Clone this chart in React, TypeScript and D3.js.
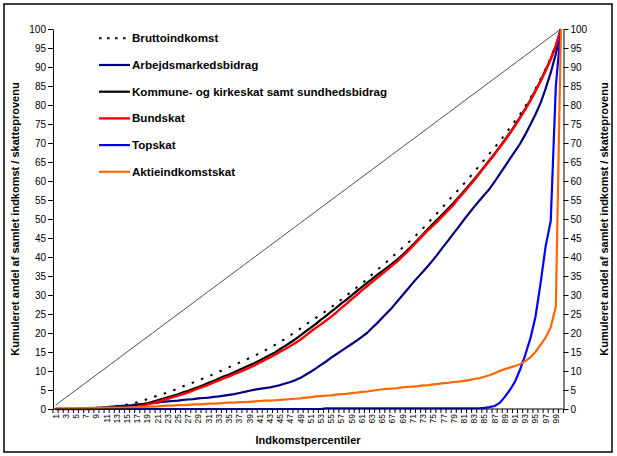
import { useEffect, useRef } from 'react';
import * as d3 from 'd3';

const percentiles = Array.from({ length: 100 }, (_, i) => i + 1);

const bruttoindkomst = [
  0, 0, 0.05, 0.1, 0.1, 0.15, 0.2, 0.25, 0.3, 0.4,
  0.5, 0.6, 0.8, 1.0, 1.2, 1.5, 1.8, 2.2, 2.6, 3.1,
  3.5, 3.9, 4.4, 4.9, 5.4, 6.0, 6.5, 7.0, 7.6, 8.1,
  8.6, 9.2, 9.8, 10.4, 11.0, 11.6, 12.2, 12.8, 13.4, 14.0,
  14.7, 15.4, 16.1, 16.9, 17.7, 18.5, 19.4, 20.3, 21.2, 22.2,
  23.1, 24.0, 24.9, 25.8, 26.8, 27.8, 28.8, 29.9, 30.9, 32.0,
  33.0, 34.2, 35.4, 36.6, 37.7, 38.9, 40.1, 41.3, 42.5, 43.7,
  44.9, 46.2, 47.6, 49.0, 50.5, 51.9, 53.4, 54.9, 56.4, 57.8,
  59.3, 60.8, 62.4, 64.0, 65.6, 67.2, 68.8, 70.4, 72.2, 74.0,
  75.8, 77.6, 79.6, 81.8, 84.2, 86.8, 89.5, 92.4, 95.8, 100,
];

const arbejdsmarkedsbidrag = [
  0, 0, 0, 0, 0, 0, 0, 0, 0.3, 0.4,
  0.5, 0.6, 0.7, 0.8, 0.9, 1.0, 1.2, 1.3, 1.4, 1.6,
  1.7, 1.9, 2.0, 2.1, 2.2, 2.4, 2.5, 2.6, 2.8, 2.9,
  3.0, 3.2, 3.3, 3.5, 3.7, 3.9, 4.2, 4.5, 4.8, 5.1,
  5.3, 5.5, 5.7, 6.0, 6.3, 6.7, 7.1, 7.6, 8.2, 9.0,
  9.8, 10.7, 11.6, 12.5, 13.5, 14.4, 15.3, 16.2, 17.1, 18.0,
  19.0, 20.0, 21.3, 22.6, 24.0, 25.4, 26.8, 28.4, 30.0, 31.6,
  33.2, 34.7, 36.2, 37.7, 39.3, 41.0, 42.8, 44.5, 46.3, 48.0,
  49.8, 51.5, 53.2, 54.8, 56.4, 57.9, 59.8, 61.8, 63.8, 65.8,
  67.8, 69.8, 72.2, 74.8, 77.5, 80.5, 84.3, 88.5, 93.5, 100,
];

const kommuneskat = [
  0, 0, 0, 0, 0, 0.05, 0.05, 0.05, 0.1, 0.1,
  0.1, 0.15, 0.2, 0.3, 0.5, 0.7, 0.9, 1.2, 1.5, 1.9,
  2.3, 2.7, 3.1, 3.5, 3.9, 4.4, 4.8, 5.3, 5.8, 6.3,
  6.9, 7.4, 8.0, 8.6, 9.1, 9.7, 10.3, 10.9, 11.5, 12.1,
  12.8, 13.5, 14.2, 14.9, 15.8, 16.6, 17.5, 18.4, 19.4, 20.4,
  21.4, 22.4, 23.5, 24.5, 25.6, 26.7, 27.8, 28.8, 29.9, 31.0,
  32.1, 33.2, 34.2, 35.3, 36.3, 37.3, 38.3, 39.4, 40.6, 41.9,
  43.2, 44.6, 46.0, 47.4, 48.8, 50.1, 51.5, 52.9, 54.3, 55.8,
  57.3, 58.9, 60.5, 62.1, 63.8, 65.5, 67.2, 69.0, 70.8, 72.7,
  74.7, 76.8, 79.0, 81.3, 83.8, 86.4, 89.2, 92.2, 95.6, 100,
];

const bundskat = [
  0, 0, 0, 0, 0, 0, 0, 0, 0.05, 0.05,
  0.05, 0.1, 0.1, 0.2, 0.3, 0.4, 0.6, 0.9, 1.2, 1.5,
  1.9, 2.3, 2.7, 3.1, 3.5, 3.9, 4.4, 4.9, 5.4, 5.9,
  6.4, 7.0, 7.5, 8.1, 8.6, 9.2, 9.7, 10.3, 10.9, 11.5,
  12.2, 12.9, 13.6, 14.3, 15.1, 15.8, 16.6, 17.4, 18.3, 19.3,
  20.4, 21.4, 22.3, 23.3, 24.3, 25.4, 26.6, 27.7, 28.9, 30.0,
  31.2, 32.3, 33.4, 34.5, 35.6, 36.7, 37.8, 38.9, 40.2, 41.5,
  42.9, 44.3, 45.7, 47.1, 48.3, 49.6, 51.0, 52.4, 53.8, 55.5,
  57.0, 58.6, 60.2, 61.9, 63.6, 65.3, 67.0, 68.8, 70.6, 72.5,
  74.5, 76.6, 78.8, 81.1, 83.6, 86.2, 89.0, 92.0, 95.5, 100,
];

const topskat = [
  0, 0, 0, 0, 0, 0, 0, 0, 0, 0,
  0, 0, 0, 0, 0, 0, 0, 0, 0, 0,
  0, 0, 0, 0, 0, 0, 0, 0, 0, 0,
  0, 0, 0, 0, 0, 0, 0, 0, 0, 0,
  0, 0, 0, 0, 0, 0, 0, 0, 0, 0,
  0, 0, 0, 0.2, 0.2, 0.2, 0.2, 0.2, 0.2, 0.2,
  0.2, 0.2, 0.2, 0.2, 0.2, 0.2, 0.2, 0.2, 0.2, 0.2,
  0.2, 0.2, 0.2, 0.2, 0.2, 0.2, 0.2, 0.2, 0.2, 0.2,
  0.2, 0.2, 0.2, 0.2, 0.3, 0.5, 0.8, 1.6, 3.2, 5.0,
  7.2, 10.4, 14.2, 18.5, 24.2, 33.0, 42.8, 49.5, 85.0, 100,
];

const aktieindkomstskat = [
  0.2, 0.2, 0.2, 0.2, 0.2, 0.25, 0.25, 0.3, 0.3, 0.3,
  0.35, 0.35, 0.4, 0.4, 0.4, 0.45, 0.5, 0.5, 0.6, 0.6,
  0.7, 0.8, 0.9, 0.9, 1.0, 1.0, 1.1, 1.2, 1.2, 1.3,
  1.4, 1.4, 1.5, 1.6, 1.7, 1.7, 1.8, 1.8, 1.9, 2.0,
  2.1, 2.2, 2.2, 2.3, 2.4, 2.5, 2.6, 2.7, 2.8, 3.0,
  3.1, 3.3, 3.4, 3.5, 3.6, 3.8, 3.9, 4.0, 4.2, 4.3,
  4.5, 4.6, 4.8, 5.0, 5.2, 5.3, 5.4, 5.5, 5.7, 5.8,
  5.9, 6.0, 6.2, 6.3, 6.5, 6.6, 6.8, 6.9, 7.1, 7.2,
  7.4, 7.6, 7.9, 8.1, 8.5, 8.9, 9.4, 10.0, 10.5, 10.9,
  11.3, 11.8, 12.6, 13.6, 15.0, 16.9, 18.8, 21.5, 27.0, 100,
];

// line of equal distribution
const ligeFordeling = percentiles.map(p => p);

const yTicks = [0, 5, 10, 15, 20, 25, 30, 35, 40, 45, 50, 55, 60, 65, 70, 75, 80, 85, 90, 95, 100];

const series = [
  { name: 'Bruttoindkomst', values: bruttoindkomst, color: '#000000', width: 2, dash: '2.5,7.5' },
  { name: 'Arbejdsmarkedsbidrag', values: arbejdsmarkedsbidrag, color: '#000080', width: 2.2, dash: null },
  { name: 'Kommune- og kirkeskat samt sundhedsbidrag', values: kommuneskat, color: '#000000', width: 2.2, dash: null },
  { name: 'Bundskat', values: bundskat, color: '#FF0000', width: 2.4, dash: null },
  { name: 'Topskat', values: topskat, color: '#0000FF', width: 2.2, dash: null },
  { name: 'Aktieindkomstskat', values: aktieindkomstskat, color: '#FF6600', width: 2.2, dash: null },
];

const W = 617;
const H = 456;
const font = 'Arial, "Liberation Sans", sans-serif';

export default function App() {
  const svgRef = useRef<SVGSVGElement>(null);

  useEffect(() => {
    if (!svgRef.current) return;
    const svg = d3.select(svgRef.current);
    svg.selectAll('*').remove();

    const left = 53, right = 563.5, top = 29, bottom = 409;

    const x = d3.scaleBand<number>().domain(percentiles).range([left, right]).padding(0);
    const y = d3.scaleLinear().domain([0, 100]).range([bottom, top]);
    const cx = (p: number) => (x(p) || 0) + x.bandwidth() / 2;

    // outer frame
    svg.append('rect')
      .attr('x', 4).attr('y', 4)
      .attr('width', 608).attr('height', 448)
      .attr('fill', '#fff')
      .attr('stroke', '#000')
      .attr('stroke-width', 1.5);

    const line = d3.line<number>()
      .x((_, i) => cx(percentiles[i]))
      .y(d => y(d));

    svg.append('path')
      .attr('d', line(ligeFordeling))
      .attr('fill', 'none')
      .attr('stroke', '#000')
      .attr('stroke-width', 0.7);

    series.forEach(s => {
      svg.append('path')
        .attr('d', line(s.values))
        .attr('fill', 'none')
        .attr('stroke', s.color)
        .attr('stroke-width', s.width)
        .attr('stroke-dasharray', s.dash)
        .attr('stroke-linejoin', 'round');
    });

    // y axes
    const yLeft = svg.append('g')
      .attr('transform', `translate(${left},0)`)
      .call(d3.axisLeft(y).tickValues(yTicks).tickSize(5).tickSizeOuter(0));
    const yRight = svg.append('g')
      .attr('transform', `translate(${right},0)`)
      .call(d3.axisRight(y).tickValues(yTicks).tickSize(5).tickSizeOuter(0));

    [yLeft, yRight].forEach(g => {
      g.selectAll('.domain').attr('stroke', '#000').attr('stroke-width', 1);
      g.selectAll('.tick line').attr('stroke', '#000');
      g.selectAll('text')
        .attr('fill', '#000')
        .style('font-family', font)
        .style('font-size', '10px');
    });
    yLeft.selectAll('text').attr('x', -7);
    yRight.selectAll('text').attr('x', 7);

    // x axis
    const xAxis = svg.append('g');
    xAxis.append('line')
      .attr('x1', left).attr('x2', right)
      .attr('y1', bottom).attr('y2', bottom)
      .attr('stroke', '#000');
    xAxis.selectAll('.xtick')
      .data(percentiles.concat([101]))
      .enter()
      .append('line')
      .attr('x1', d => d <= 100 ? (x(d) || 0) : right)
      .attr('x2', d => d <= 100 ? (x(d) || 0) : right)
      .attr('y1', bottom)
      .attr('y2', bottom + 4)
      .attr('stroke', '#000');
    xAxis.selectAll('.xlabel')
      .data(percentiles.filter(p => p % 2 === 1))
      .enter()
      .append('text')
      .attr('transform', d => `translate(${cx(d) + 3},${bottom + 5}) rotate(-90)`)
      .attr('text-anchor', 'end')
      .style('font-family', font)
      .style('font-size', '8.5px')
      .text(d => d);

    // axis titles
    svg.append('text')
      .attr('x', 308).attr('y', 444)
      .attr('text-anchor', 'middle')
      .style('font-family', font)
      .style('font-size', '11px')
      .style('font-weight', 'bold')
      .text('Indkomstpercentiler');

    svg.append('text')
      .attr('transform', `translate(19,219) rotate(-90)`)
      .attr('text-anchor', 'middle')
      .style('font-family', font)
      .style('font-size', '11px')
      .style('font-weight', 'bold')
      .text('Kumuleret andel af samlet indkomst / skatteprovenu');

    svg.append('text')
      .attr('transform', `translate(608,219) rotate(-90)`)
      .attr('text-anchor', 'middle')
      .style('font-family', font)
      .style('font-size', '11px')
      .style('font-weight', 'bold')
      .text('Kumuleret andel af samlet indkomst / skatteprovenu');

    // legend
    const legend = svg.append('g');
    series.forEach((s, i) => {
      const ly = 38.3 + i * 26.7;
      legend.append('line')
        .attr('x1', 99).attr('x2', 130)
        .attr('y1', ly).attr('y2', ly)
        .attr('stroke', s.color)
        .attr('stroke-width', s.width)
        .attr('stroke-dasharray', s.dash ? '2.5,5.5' : null);
      legend.append('text')
        .attr('x', 132).attr('y', ly + 4)
        .style('font-family', font)
        .style('font-size', '11.6px')
        .style('font-weight', 'bold')
        .text(s.name);
    });
  }, []);

  return (
    <div style={{ position: 'absolute', left: 0, top: 0 }}>
      <svg ref={svgRef} width={W} height={H} />
    </div>
  );
}
